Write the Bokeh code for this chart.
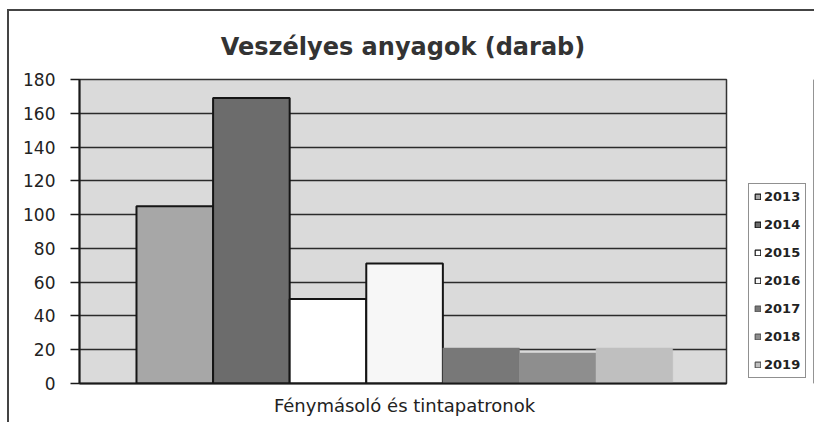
from bokeh.plotting import figure
from bokeh.layouts import row
from bokeh.models import Range1d, FixedTicker, Legend, LegendItem
from bokeh.embed import file_html
from bokeh.resources import INLINE

# ---- data ----
chart_title = "Veszélyes anyagok (darab)"
category = "Fénymásoló és tintapatronok"
years = ["2013", "2014", "2015", "2016", "2017", "2018", "2019"]
values = [105, 169, 50, 71, 21, 18, 21]
y_ticks = [0, 20, 40, 60, 80, 100, 120, 140, 160, 180]

# ---- styles ----
fills = ["#a7a7a7", "#6c6c6c", "#ffffff", "#f7f7f7", "#787878", "#8e8e8e", "#bfbfbf"]
outlines = ["#151515", "#151515", "#151515", "#151515", None, None, None]
FONT = "DejaVu Sans"

positions = list(range(1, len(years) + 1))
center = sum(positions) / len(positions)

p = figure(width=719, height=411, output_backend="svg", toolbar_location=None,
           x_range=Range1d(-0.244, 8.203), y_range=Range1d(0, 180),
           min_border_left=70, min_border_right=2, min_border_top=68,
           min_border_bottom=39)

p.title.text = chart_title
p.title.text_font = FONT
p.title.text_font_size = "24px"
p.title.text_font_style = "bold"
p.title.text_color = "#333333"
p.title.align = "center"
p.title.standoff = 38

p.background_fill_color = "#dadada"
p.border_fill_color = "white"
p.outline_line_color = "#333333"
p.outline_line_width = 1.5

# legend panel (separate small figure so that the legend is not clipped)
lg = figure(width=86, height=411, output_backend="svg", toolbar_location=None,
            x_axis_type=None, y_axis_type=None, min_border=0,
            x_range=Range1d(-2, -1), y_range=Range1d(0, 1))
lg.outline_line_color = None
lg.background_fill_color = "white"
lg.border_fill_color = "white"
lg.xgrid.visible = False
lg.ygrid.visible = False

items = []
for x, yr, v, fc, lc in zip(positions, years, values, fills, outlines):
    p.vbar(x=[x], top=[v], width=1.0, bottom=0, fill_color=fc,
           line_color=lc if lc else fc, line_width=2 if lc else 0.5)
    # off-range copy in the legend panel, only used for the legend key
    key = lg.vbar(x=[x], top=[v], width=1.0, bottom=0, fill_color=fc,
                  line_color=lc if lc else "#555555", line_width=1.2)
    items.append(LegendItem(label=yr, renderers=[key]))

# grid
p.xgrid.visible = False
p.ygrid.ticker = FixedTicker(ticks=y_ticks)
p.ygrid.grid_line_color = "#2a2a2a"
p.ygrid.grid_line_width = 1.5

# y axis
p.yaxis.ticker = FixedTicker(ticks=y_ticks)
p.yaxis.major_label_text_font = FONT
p.yaxis.major_label_text_font_size = "17px"
p.yaxis.major_label_text_color = "#222222"
p.yaxis.axis_line_color = "#1a1a1a"
p.yaxis.axis_line_width = 2
p.yaxis.major_tick_in = 0
p.yaxis.major_tick_out = 9
p.yaxis.major_tick_line_color = "#1a1a1a"
p.yaxis.major_tick_line_width = 1.5
p.yaxis.minor_tick_line_color = None
p.yaxis.major_label_standoff = 15

# x axis
p.xaxis.ticker = FixedTicker(ticks=[center])
p.xaxis.major_label_overrides = {center: category}
p.xaxis.major_label_text_font = FONT
p.xaxis.major_label_text_font_size = "18px"
p.xaxis.major_label_text_color = "#222222"
p.xaxis.axis_line_color = "#1a1a1a"
p.xaxis.axis_line_width = 2
p.xaxis.major_tick_line_color = None
p.xaxis.minor_tick_line_color = None
p.xaxis.major_label_standoff = 5

legend = Legend(items=items, location=(20, 5))
legend.glyph_width = 7
legend.glyph_height = 7
legend.label_text_font = FONT
legend.label_text_font_style = "bold"
legend.label_text_font_size = "13px"
legend.label_text_color = "#222222"
legend.label_standoff = 3
legend.label_height = 14
legend.spacing = 13
legend.padding = 5
legend.margin = 0
legend.border_line_color = "#222222"
legend.border_line_width = 1.5
legend.background_fill_color = "white"
legend.background_fill_alpha = 1
lg.add_layout(legend)

layout = row(p, lg, spacing=0)
layout.styles = {"margin-left": "7px", "margin-top": "9px",
                 "border-left": "2px solid #444444",
                 "border-top": "2px solid #444444"}
open("out.html", "w").write(file_html(layout, INLINE))
